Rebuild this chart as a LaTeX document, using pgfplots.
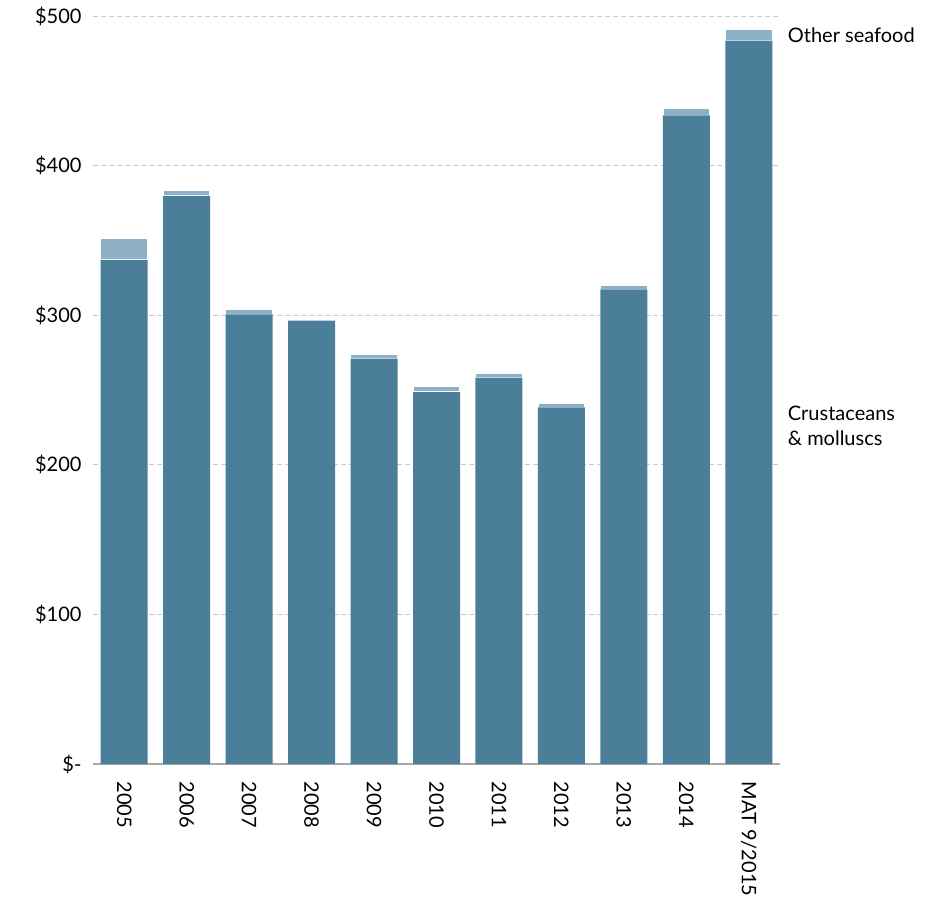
\documentclass[border=0pt]{standalone}
\usepackage{pgfplots}
\pgfplotsset{compat=1.18}
\usepackage{fontspec}
\setmainfont{Lato}
\definecolor{crust}{HTML}{4A7E99}
\definecolor{other}{HTML}{8FB1C7}
\definecolor{gridc}{HTML}{C8C8C8}
\definecolor{axisc}{HTML}{A8A8A8}
\begin{document}
\begin{tikzpicture}
\useasboundingbox (-93pt,-138pt) rectangle (840pt,764pt);
\begin{axis}[
  at={(0,0)}, anchor=south west,
  scale only axis,
  width=687pt, height=748pt,
  xmin=-0.5, xmax=10.5,
  ymin=0, ymax=500,
  axis lines*=left,
  x axis line style={axisc, line width=1.5pt, -},
  y axis line style={draw=none},
  ybar stacked,
  bar width=47pt,
  xtick={0,...,10},
  xticklabels={2005,2006,2007,2008,2009,2010,2011,2012,2013,2014,MAT 9/2015},
  ytick={0,100,200,300,400,500},
  yticklabels={\$-,\$100,\$200,\$300,\$400,\$500},
  ymajorgrids,
  grid style={gridc, line width=0.8pt, dash pattern=on 5pt off 3pt},
  major tick length=0pt,
  tick label style={font=\fontsize{20}{23}\selectfont, text=black},
  xticklabel style={rotate=-90, anchor=west},
  xticklabel shift=14pt,
  yticklabel style={anchor=east},
  yticklabel shift=8pt,
  /pgf/number format/assume math mode=true,
  clip=false,
]
\addplot[fill=crust, draw=none] coordinates {
 (0,337) (1,379.7) (2,300.5) (3,296.3) (4,271) (5,248.5) (6,258.2) (7,238.4) (8,317.3) (9,433.6) (10,483.5)};
\addplot[fill=other, draw=white, line width=1.5pt] coordinates {
 (0,14.6) (1,3.8) (2,3.8) (3,0) (4,2.6) (5,4.2) (6,2.8) (7,2.8) (8,2.5) (9,4.6) (10,7.8)};
\node[anchor=west, font=\fontsize{20}{23}\selectfont] at (axis cs:10.57,487) {Other seafood};
\node[anchor=west, align=left, font=\fontsize{20}{25}\selectfont] at (axis cs:10.57,226) {Crustaceans\\\& molluscs};
\end{axis}
\end{tikzpicture}
\end{document}
